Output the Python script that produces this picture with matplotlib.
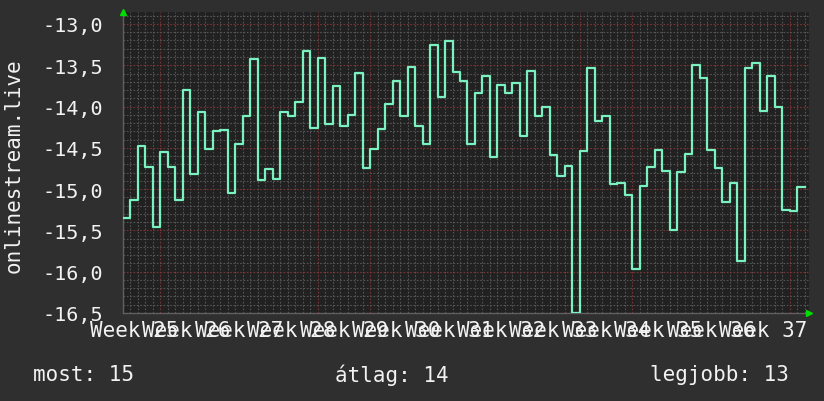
import numpy as np
import matplotlib.pyplot as plt
from matplotlib.ticker import FixedLocator, NullFormatter
import matplotlib.transforms as mtransforms

# daily values (step line, one value per day)
values = [-15.35, -15.13, -14.48, -14.73, -15.46, -14.55, -14.73, -15.13, -13.80, -14.82,
          -14.07, -14.51, -14.30, -14.28, -15.05, -14.45, -14.12, -13.43, -14.89, -14.76,
          -14.88, -14.06, -14.11, -13.94, -13.33, -14.26, -13.41, -14.21, -13.75, -14.24,
          -14.10, -13.59, -14.74, -14.51, -14.27, -13.97, -13.69, -14.11, -13.52, -14.24,
          -14.45, -13.25, -13.89, -13.21, -13.58, -13.69, -14.45, -13.84, -13.63, -14.61,
          -13.74, -13.84, -13.72, -14.36, -13.57, -14.11, -14.00, -14.59, -14.84, -14.72,
          -16.50, -14.54, -13.53, -14.17, -14.12, -14.94, -14.92, -15.07, -15.97, -14.96,
          -14.73, -14.53, -14.78, -15.49, -14.79, -14.58, -13.50, -13.65, -14.53, -14.74,
          -15.16, -14.93, -15.87, -13.53, -13.47, -14.05, -13.63, -14.01, -15.25, -15.26,
          -14.97]
week_numbers = list(range(25, 38))
y_labels = ['-13,0', '-13,5', '-14,0', '-14,5', '-15,0', '-15,5', '-16,0', '-16,5']
y_ticks = [-13.0, -13.5, -14.0, -14.5, -15.0, -15.5, -16.0, -16.5]
legend_texts = ['most: 15', 'átlag: 14', 'legjobb: 13']

bg = '#2f2f2f'
plot_bg = '#212121'
fg = '#f2f2f2'
line_col = '#7af2bf'
mono = 'DejaVu Sans Mono'

fig = plt.figure(figsize=(8.24, 4.02), dpi=100, facecolor=bg)
ax = fig.add_axes([123/824, 88/402, 686/824, 301/402])
ax.set_facecolor(plot_bg)

days = np.arange(len(values) + 1)
vals = values + [values[-1]]
ax.step(days, vals, where='post', color=line_col, lw=1.6, zorder=5)

ax.set_xlim(0, 91.6)
ax.set_ylim(-16.5, -12.855)

# grid
x_major = [5 + 7*k for k in range(13)]
x_minor = [d for d in range(0, 92) if d not in x_major]
ax.xaxis.set_major_locator(FixedLocator(x_major))
ax.xaxis.set_minor_locator(FixedLocator(x_minor))
ax.yaxis.set_major_locator(FixedLocator(y_ticks))
ax.yaxis.set_minor_locator(FixedLocator(np.round(np.arange(-16.5, -12.85, 0.1), 1)))
ax.grid(which='minor', color='#555555', lw=0.8, ls=(0, (1.5, 1.5)))
ax.grid(which='major', color='#7a3434', lw=0.8, ls=(0, (1.5, 1.5)))
ax.set_axisbelow(True)
ax.xaxis.set_major_formatter(NullFormatter())
ax.set_yticklabels(y_labels)
ax.tick_params(which='both', length=0)
ax.tick_params(axis='y', colors=fg, labelsize=14.5, pad=14)
for t in ax.get_yticklabels():
    t.set_family(mono)

for s in ['top', 'right']:
    ax.spines[s].set_visible(False)
for s in ['left', 'bottom']:
    ax.spines[s].set_color('#606060')
    ax.spines[s].set_linewidth(1)

# week labels, centred between the week lines
trans = mtransforms.blended_transform_factory(ax.transData, ax.transAxes)
for k, w in enumerate(week_numbers):
    ax.text(1.5 + 7*k, -0.055, f'Week {w}', transform=trans, ha='center', va='center',
            color=fg, fontsize=15, family=mono)

# green arrows
ax.plot(0, 1.0, marker='^', color='#00dd00', ms=4.5, transform=ax.transAxes,
        clip_on=False, zorder=6)
ax.plot(1.0, 0, marker='>', color='#00dd00', ms=4.5, transform=ax.transAxes,
        clip_on=False, zorder=6)

fig.text(14/824, 1 - 166/402, 'onlinestream.live', rotation=90, ha='center', va='center',
         color=fg, fontsize=15, family=mono)

fig.text(33/824, 1 - 375/402, legend_texts[0], ha='left', va='center', color=fg,
         fontsize=15, family=mono)
fig.text(335/824, 1 - 375/402, legend_texts[1], ha='left', va='center', color=fg,
         fontsize=15, family=mono)
fig.text(650/824, 1 - 375/402, legend_texts[2], ha='left', va='center', color=fg,
         fontsize=15, family=mono)

plt.savefig('out.png', dpi=100, facecolor=bg)
